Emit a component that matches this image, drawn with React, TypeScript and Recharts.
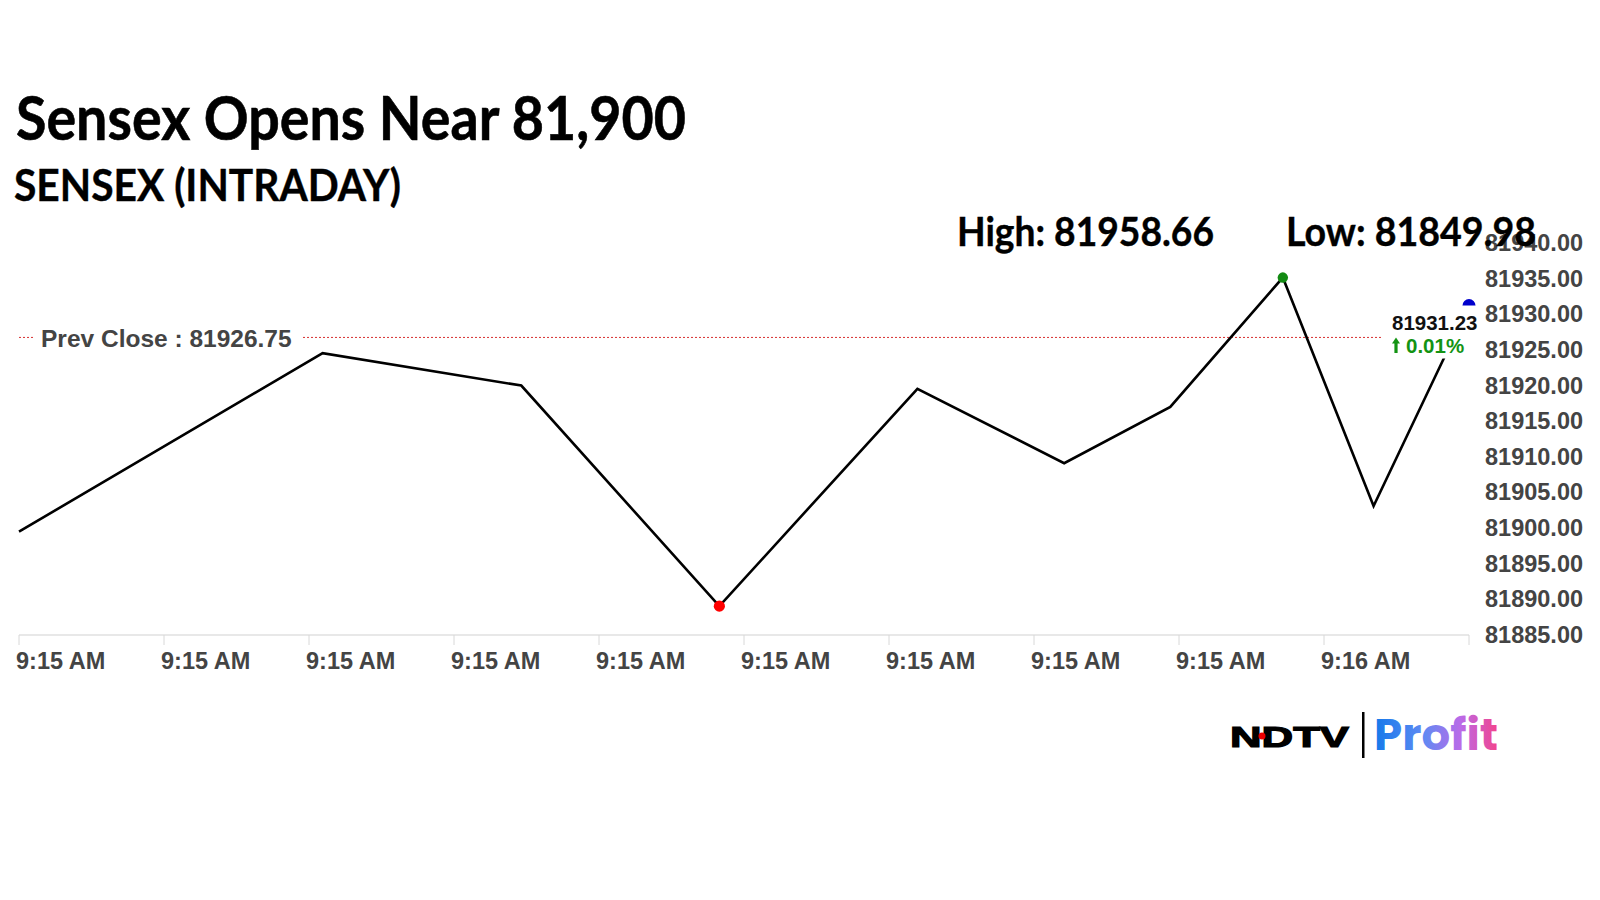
import { LineChart, Line, XAxis, YAxis, ReferenceLine, ReferenceDot } from 'recharts'

// seconds after 9:15:00
const TIMES = [15, 25.47, 32.32, 39.15, 45.98, 51.04, 54.7, 58.58, 61.71, 65]
const VALUES = [81899.5, 81924.55, 81920.0, 81889.05, 81919.55, 81909.1, 81917.0, 81935.15, 81903.1, 81931.23]
const X_TICKS = [15, 20, 25, 30, 35, 40, 45, 50, 55, 60, 65]
const Y_TICKS = [81885, 81890, 81895, 81900, 81905, 81910, 81915, 81920, 81925, 81930, 81935, 81940]

const PREV_CLOSE = 81926.75
const DAY_HIGH = 81958.66
const DAY_LOW = 81849.98
const CHANGE_PCT = 0.01

const data = TIMES.map((t, i) => ({ t, value: VALUES[i] }))
const hiIdx = VALUES.indexOf(Math.max(...VALUES))
const loIdx = VALUES.indexOf(Math.min(...VALUES))
const last = data[data.length - 1]

const AXIS_FONT = '"Liberation Sans", Arial, sans-serif'
const HEAD_FONT = 'Lato, "Open Sans", sans-serif'

const timeLabel = (s: number) => (s >= 60 ? '9:16 AM' : '9:15 AM')

const XTick = ({ x, y, payload, index }: any) => (
  <g>
    <line x1={x} y1={y} x2={x} y2={y + 10} stroke="#d8d8d8" strokeWidth={1} />
    {index < X_TICKS.length - 1 && (
      <text x={x - 3} y={y + 26} textAnchor="start" dominantBaseline="central"
        fontFamily={AXIS_FONT} fontWeight={700} fontSize={23.5} fill="#444">
        {timeLabel(payload.value)}
      </text>
    )}
  </g>
)

const YTick = ({ x, y, payload }: any) => (
  <text x={x + 16} y={y} textAnchor="start" dominantBaseline="central"
    fontFamily={AXIS_FONT} fontWeight={700} fontSize={23.5} fill="#444">
    {payload.value.toFixed(2)}
  </text>
)

const PrevCloseLabel = ({ viewBox }: any) => {
  const { x, y } = viewBox
  return (
    <g>
      <rect x={x + 15} y={y - 14} width={267} height={28} fill="#fff" />
      <text x={x + 22} y={y + 1} dominantBaseline="central" fontFamily={AXIS_FONT}
        fontWeight={700} fontSize={24.5} fill="#444">
        {`Prev Close : ${PREV_CLOSE}`}
      </text>
    </g>
  )
}

// last-price marker with its value box on top
const LastPrice = ({ cx, cy }: any) => {
  const ax = cx - 73
  const ay = cy + 40
  return (
    <g>
      <circle cx={cx} cy={cy} r={6.5} fill="#0000cc" />
      <rect x={cx - 87} y={cy} width={100} height={53} fill="#fff" />
      <text x={cx - 77} y={cy + 16.5} dominantBaseline="central" fontFamily={AXIS_FONT}
        fontWeight={700} fontSize={20.5} fill="#111">
        {last.value.toFixed(2)}
      </text>
      {/* up arrow */}
      <path d={`M${ax - 4} ${ay - 2} L${ax} ${ay - 8} L${ax + 4} ${ay - 2} Z`} fill="#139313" />
      <rect x={ax - 1.6} y={ay - 3} width={3.2} height={10.5} fill="#139313" />
      <text x={cx - 63} y={ay} dominantBaseline="central" fontFamily={AXIS_FONT}
        fontWeight={700} fontSize={20.5} fill="#139313">
        {`${CHANGE_PCT.toFixed(2)}%`}
      </text>
    </g>
  )
}

const renderDot = (props: any) => {
  const { cx, cy, index } = props
  if (index === hiIdx) return <circle key={index} cx={cx} cy={cy} r={5.2} fill="#138a13" />
  if (index === loIdx) return <circle key={index} cx={cx} cy={cy} r={5.6} fill="#f00" />
  return <g key={index} />
}

export default function App() {
  return (
    <div style={{ position: 'absolute', left: 0, top: 0, width: 1600, height: 900, background: '#fff' }}>
      <LineChart width={1600} height={900} data={data}
        margin={{ top: 243, right: 0, bottom: 225, left: 19 }}>
        <XAxis dataKey="t" type="number" domain={[15, 65]} ticks={X_TICKS} height={40}
          axisLine={{ stroke: '#e0e0e0', strokeWidth: 1.5 }} tickLine={false} tickSize={0} tickMargin={0}
          tick={<XTick />} interval={0} />
        <YAxis orientation="right" width={131} domain={[81885, 81940]} ticks={Y_TICKS}
          axisLine={false} tickLine={false} tickSize={0} tickMargin={0} tick={<YTick />} interval={0} />
        <ReferenceLine y={PREV_CLOSE} stroke="#d83030" strokeWidth={1} strokeDasharray="2 2"
          label={<PrevCloseLabel />} />
        <Line type="linear" dataKey="value" stroke="#000" strokeWidth={2.6}
          dot={renderDot} activeDot={false} isAnimationActive={false} />
        <ReferenceDot x={last.t} y={last.value} shape={<LastPrice />} />
      </LineChart>

      <svg width={1600} height={900} style={{ position: 'absolute', left: 0, top: 0, pointerEvents: 'none' }}>
        <defs>
          <linearGradient id="profitGrad" x1="0" y1="0" x2="1" y2="0">
            <stop offset="0%" stopColor="#1479ea" />
            <stop offset="40%" stopColor="#5f8af3" />
            <stop offset="70%" stopColor="#bb6ae8" />
            <stop offset="100%" stopColor="#f3448c" />
          </linearGradient>
        </defs>
        <text x={16} y={140} fontFamily={HEAD_FONT} fontWeight={700} fontSize={62}
          textLength={670} lengthAdjust="spacingAndGlyphs" fill="#000" stroke="#000" strokeWidth={0.6}>
          Sensex Opens Near 81,900
        </text>
        <text x={14} y={201} fontFamily={HEAD_FONT} fontWeight={700} fontSize={44}
          textLength={387} lengthAdjust="spacingAndGlyphs" fill="#000" stroke="#000" strokeWidth={0.4}>
          SENSEX (INTRADAY)
        </text>
        <text x={957} y={246} fontFamily={HEAD_FONT} fontWeight={700} fontSize={41}
          textLength={257} lengthAdjust="spacingAndGlyphs" fill="#000" stroke="#000" strokeWidth={0.4}>
          {`High: ${DAY_HIGH}`}
        </text>
        <text x={1286} y={246} fontFamily={HEAD_FONT} fontWeight={700} fontSize={41}
          textLength={250} lengthAdjust="spacingAndGlyphs" fill="#000" stroke="#000" strokeWidth={0.4}>
          {`Low: ${DAY_LOW}`}
        </text>

        <text x={1230} y={747} fontFamily={AXIS_FONT} fontWeight={700} fontSize={30}
          textLength={119} lengthAdjust="spacingAndGlyphs" fill="#000" stroke="#000" strokeWidth={1.2}>
          NDTV
        </text>
        <circle cx={1262} cy={736} r={3.5} fill="#e00" />
        <rect x={1362} y={712} width={2.5} height={46} fill="#000" />
        <text x={1374} y={750} fontFamily={'Poppins, "Open Sans", sans-serif'} fontWeight={700} fontSize={44}
          textLength={124} lengthAdjust="spacingAndGlyphs" fill="url(#profitGrad)">
          Profit
        </text>
      </svg>
    </div>
  )
}
